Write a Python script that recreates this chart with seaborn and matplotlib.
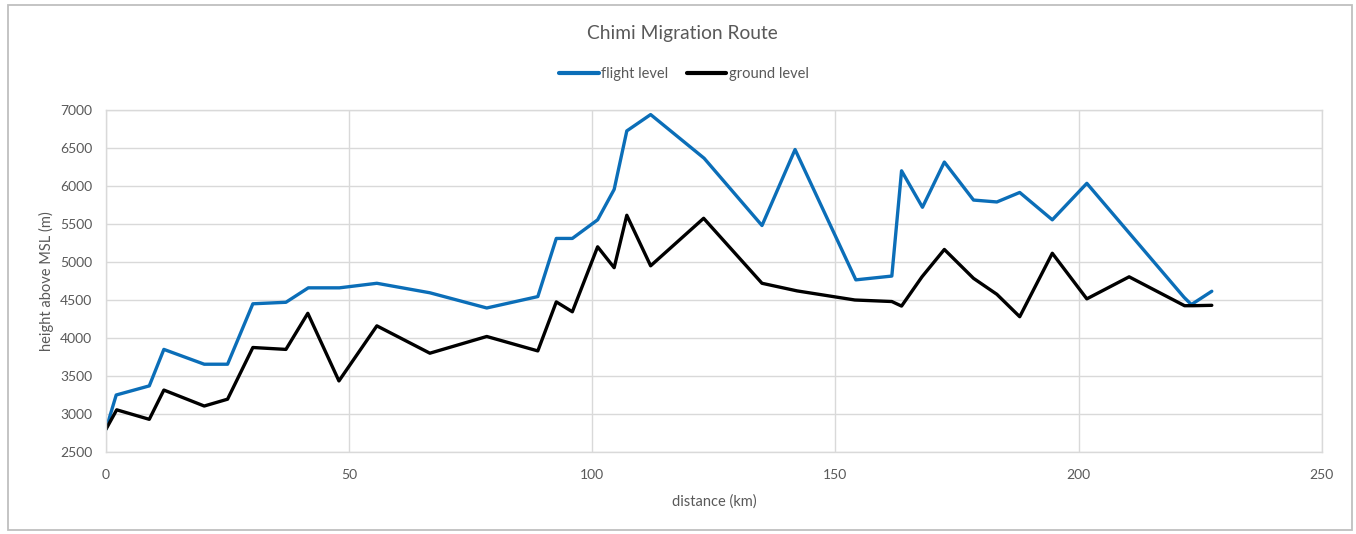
import matplotlib
matplotlib.use("Agg")
import matplotlib.pyplot as plt
from matplotlib.patches import Rectangle
import pandas as pd
import seaborn as sns

# Flight track (distance along route in km, altitude in m)
flight_km = [0, 2.1, 8.9, 11.9, 20.2, 25.0, 30.2, 37.0, 41.6, 48.0, 55.7, 66.6,
             78.3, 88.8, 92.6, 95.9, 101.1, 104.5, 107.1, 112.0, 123.0, 134.9,
             141.7, 154.2, 161.6, 163.6, 167.9, 172.4, 178.4, 183.2, 187.9,
             194.6, 201.7, 221.7, 223.2, 227.4]
flight_m = [2800, 3250, 3370, 3850, 3655, 3655, 4450, 4470, 4660, 4660, 4720, 4595,
            4395, 4545, 5310, 5310, 5555, 5955, 6725, 6940, 6365, 5480,
            6480, 4765, 4815, 6200, 5720, 6315, 5815, 5790, 5915,
            5555, 6035, 4535, 4440, 4615]

# Terrain profile below the track
ground_km = [0, 2.2, 8.9, 11.9, 20.2, 25.0, 30.2, 37.0, 41.5, 47.9, 55.7, 66.6,
             78.3, 88.8, 92.6, 95.9, 101.1, 104.5, 107.1, 112.0, 122.9, 134.9,
             142.1, 154.0, 161.6, 163.6, 167.8, 172.4, 178.4, 183.2, 187.9,
             194.6, 201.7, 210.4, 221.8, 223.5, 227.4]
ground_m = [2800, 3055, 2930, 3315, 3105, 3195, 3875, 3850, 4325, 3435, 4160, 3800,
            4020, 3830, 4475, 4345, 5200, 4925, 5615, 4950, 5575, 4720,
            4620, 4500, 4480, 4420, 4805, 5165, 4785, 4575, 4280,
            5115, 4515, 4805, 4425, 4425, 4430]

series_names = ["flight level", "ground level"]
series_colors = ["#0B6EB8", "#000000"]

x_ticks = [0, 50, 100, 150, 200, 250]
y_ticks = [2500, 3000, 3500, 4000, 4500, 5000, 5500, 6000, 6500, 7000]

df = pd.concat([
    pd.DataFrame({"distance": flight_km, "height": flight_m, "series": series_names[0]}),
    pd.DataFrame({"distance": ground_km, "height": ground_m, "series": series_names[1]}),
], ignore_index=True)

sns.set_theme(style="white")
plt.rcParams["font.family"] = ["Lato", "DejaVu Sans"]
text_gray = "#595959"
grid_gray = "#D9D9D9"

fig = plt.figure(figsize=(13.56, 5.34), dpi=100)
ax = fig.add_axes([106 / 1356, 1 - 452 / 534, (1321.7 - 106) / 1356, (452 - 110) / 534])

sns.lineplot(data=df, x="distance", y="height", hue="series", hue_order=series_names,
             palette=series_colors, sort=False, estimator=None, linewidth=2.4,
             ax=ax, legend=False)

ax.set_xlim(0, 250)
ax.set_ylim(2500, 7000)
ax.set_xticks(x_ticks)
ax.set_yticks(y_ticks)
ax.grid(True, color=grid_gray, linewidth=1.0)
ax.set_axisbelow(True)
for sp in ax.spines.values():
    sp.set_color(grid_gray)
    sp.set_linewidth(1.0)
ax.tick_params(length=0, labelsize=10, labelcolor=text_gray)
ax.tick_params(axis="x", pad=12.5)
ax.tick_params(axis="y", pad=10)

ax.set_xlabel("distance (km)", fontsize=10.5, color=text_gray)
ax.set_ylabel("height above MSL (m)", fontsize=10.5, color=text_gray)
ax.xaxis.set_label_coords(0.5, -0.123)
ax.yaxis.set_label_coords(-0.0425, 0.5)

fig.text(682 / 1356, 1 - 33 / 534, "Chimi Migration Route", ha="center", va="center",
         fontsize=13.8, color=text_gray)

handles = [plt.Line2D([], [], color=c, linewidth=3) for c in series_colors]
fig.legend(handles, series_names, loc="center", bbox_to_anchor=(684 / 1356, 1 - 74 / 534),
           ncol=2, frameon=False, fontsize=10.5, labelcolor=text_gray,
           handlelength=2.7, handletextpad=0.15, columnspacing=1.3)

fig.patches.append(Rectangle((8 / 1356, 1 - 530 / 534), 1344 / 1356, 525 / 534,
                             transform=fig.transFigure, fill=False,
                             edgecolor="#BFBFBF", linewidth=1.3))

fig.savefig("out.png", dpi=100, facecolor="white")
